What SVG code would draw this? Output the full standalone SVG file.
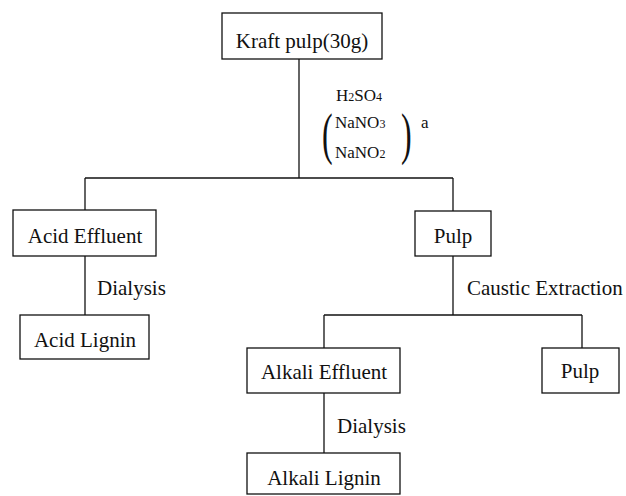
<svg xmlns="http://www.w3.org/2000/svg" width="626" height="496" viewBox="0 0 626 496">
<style>
.box{fill:#fff;stroke:#111;stroke-width:1.3}
text{font-family:"Liberation Serif",Tinos,"Times New Roman",Times,"Nimbus Roman","DejaVu Serif",serif;fill:#111}
.lbl{font-size:21px}
.chem{font-size:17px}
.sub{font-size:12px}
.conn line{stroke:#111;stroke-width:1.3}
</style>
<rect width="626" height="496" fill="#fff"/>
<g class="conn" id="connectors">
<line x1="299" y1="59" x2="299" y2="178"/>
<line x1="85" y1="178" x2="453" y2="178"/>
<line x1="85" y1="178" x2="85" y2="210"/>
<line x1="453" y1="178" x2="453" y2="211"/>
<line x1="85" y1="256" x2="85" y2="315"/>
<line x1="453" y1="256" x2="453" y2="315"/>
<line x1="324" y1="315" x2="582" y2="315"/>
<line x1="324" y1="315" x2="324" y2="348"/>
<line x1="582" y1="315" x2="582" y2="348"/>
<line x1="324" y1="393" x2="324" y2="453"/>
</g>
<g id="reagents">
<text class="chem" x="336" y="101">H<tspan class="sub">2</tspan>SO<tspan class="sub">4</tspan></text>
<text class="chem" x="335" y="128">NaNO<tspan class="sub">3</tspan></text>
<text class="chem" x="335" y="158">NaNO<tspan class="sub">2</tspan></text>
<text transform="translate(322,153) scale(1,1.75)" style="font-size:32px">(</text>
<text transform="translate(401,153) scale(1,1.75)" style="font-size:32px">)</text>
<text class="chem" x="421" y="128">a</text>
</g>
<g id="labels">
<text class="lbl" x="97" y="295">Dialysis</text>
<text class="lbl" x="467" y="295">Caustic Extraction</text>
<text class="lbl" x="337" y="433">Dialysis</text>
</g>
<g id="kraft">
<rect class="box" x="222" y="13" width="160" height="46"/>
<text class="lbl" x="302" y="48" text-anchor="middle">Kraft pulp(30g)</text>
</g>
<g id="acid-effluent">
<rect class="box" x="13" y="210" width="143" height="46"/>
<text class="lbl" x="85" y="243" text-anchor="middle">Acid Effluent</text>
</g>
<g id="acid-lignin">
<rect class="box" x="20" y="315" width="129" height="44"/>
<text class="lbl" x="85" y="347" text-anchor="middle">Acid Lignin</text>
</g>
<g id="pulp1">
<rect class="box" x="415" y="211" width="76" height="45"/>
<text class="lbl" x="453" y="243" text-anchor="middle">Pulp</text>
</g>
<g id="alkali-effluent">
<rect class="box" x="247" y="348" width="153" height="45"/>
<text class="lbl" x="324" y="379" text-anchor="middle">Alkali Effluent</text>
</g>
<g id="pulp2">
<rect class="box" x="542" y="348" width="77" height="45"/>
<text class="lbl" x="580" y="378" text-anchor="middle">Pulp</text>
</g>
<g id="alkali-lignin">
<rect class="box" x="247" y="453" width="153" height="41"/>
<text class="lbl" x="324" y="485" text-anchor="middle">Alkali Lignin</text>
</g>
</svg>
